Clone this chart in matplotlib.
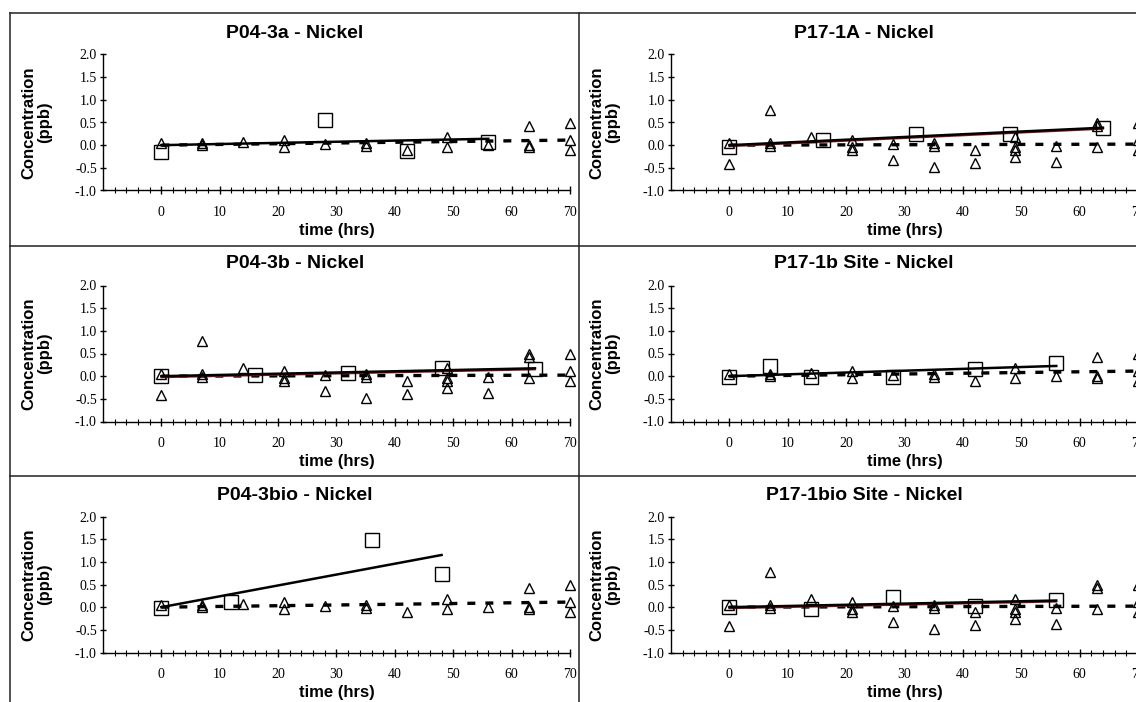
import numpy as np
import matplotlib
matplotlib.use("Agg")
import matplotlib.pyplot as plt
from matplotlib.lines import Line2D
from matplotlib.transforms import offset_copy

plt.rcParams['axes.unicode_minus'] = False

W, H = 1136, 702

# blank / control triangles (two sets, reused across panels)
blank_a_t = [0, 7, 7, 14, 21, 21, 28, 35, 35, 42, 49, 49, 56, 63, 63, 63, 70, 70, 70]
blank_a_c = [0.05, 0.05, 0.0, 0.08, 0.12, -0.03, 0.02, 0.05, -0.02, -0.1,
             0.18, -0.05, 0.0, 0.42, 0.0, -0.05, 0.48, 0.12, -0.1]

blank_b_t = [0, 0, 7, 7, 7, 14, 21, 21, 21, 28, 28, 35, 35, 35, 42, 42,
             49, 49, 49, 49, 56, 56, 63, 63, 63, 70, 70, 70]
blank_b_c = [0.05, -0.42, 0.78, 0.05, -0.02, 0.18, 0.12, -0.03, -0.1, 0.02, -0.32,
             0.05, -0.02, -0.48, -0.1, -0.4, 0.18, -0.05, -0.1, -0.27, -0.02, -0.38,
             0.48, 0.42, -0.05, 0.48, 0.12, -0.1]

# sample squares per panel
p043a_t = [0, 28, 42, 56]
p043a_c = [-0.15, 0.55, -0.12, 0.07]
p171a_t = [0, 16, 32, 48, 64]
p171a_c = [-0.03, 0.12, 0.25, 0.25, 0.38]
p043b_t = [0, 16, 32, 48, 64]
p043b_c = [0.0, 0.02, 0.07, 0.18, 0.15]
p171b_t = [0, 7, 14, 28, 42, 56]
p171b_c = [-0.02, 0.23, -0.02, -0.02, 0.15, 0.3]
p043bio_t = [0, 12, 36, 48]
p043bio_c = [-0.02, 0.12, 1.48, 0.73]
p171bio_t = [0, 14, 28, 42, 56]
p171bio_c = [0.0, -0.03, 0.22, 0.03, 0.15]

titles = ['P04-3a - Nickel', 'P17-1A - Nickel',
          'P04-3b - Nickel', 'P17-1b Site - Nickel',
          'P04-3bio - Nickel', 'P17-1bio Site - Nickel']
samples = [(p043a_t, p043a_c), (p171a_t, p171a_c),
           (p043b_t, p043b_c), (p171b_t, p171b_c),
           (p043bio_t, p043bio_c), (p171bio_t, p171bio_c)]
blanks = ['a', 'b', 'b', 'a', 'a', 'b']
red_under = [False, True, True, False, False, True]

x_ticks = [0, 10, 20, 30, 40, 50, 60, 70]
y_ticks = [-1.0, -0.5, 0.0, 0.5, 1.0, 1.5, 2.0]

SANS = 'Liberation Sans'
SERIF = 'Liberation Serif'


def origin_fit(t, c):
    '''Least squares slope of a line forced through zero.'''
    t = np.asarray(t, float)
    c = np.asarray(c, float)
    return (t * c).sum() / (t * t).sum()


fig = plt.figure(figsize=(W / 100, H / 100), dpi=100)

col_left = [103, 671]      # pixel x of the y axis (x = -10)
ax_w = 467                 # pixels for 80 hours
row_bottom = [190.5, 421.5, 652.5]
ax_h = 136
panel_left = [10, 579]
panel_w = 570
title_y = [33, 264, 495]

for i, title in enumerate(titles):
    r, col = divmod(i, 2)
    ax = fig.add_axes([col_left[col] / W, 1 - row_bottom[r] / H,
                       ax_w / W, ax_h / H])
    ax.set_xlim(-10, 70)
    ax.set_ylim(-1, 2)
    ax.patch.set_alpha(0)
    for s in ['top', 'right']:
        ax.spines[s].set_visible(False)
    for s in ['left', 'bottom']:
        ax.spines[s].set_linewidth(1.0)

    bt, bc = (blank_a_t, blank_a_c) if blanks[i] == 'a' else (blank_b_t, blank_b_c)
    st, sc = samples[i]

    # blank trend (dashed) and sample trend (solid)
    kb = origin_fit(bt, bc)
    tb = np.array([0, max(bt)])
    ax.plot(tb, kb * tb, color='black', lw=2.4, linestyle=(0, (2.4, 3.0)),
            solid_capstyle='butt', dash_capstyle='butt', zorder=2)
    ks = origin_fit(st, sc)
    ts = np.array([0, max(st)])
    if red_under[i]:
        ax.plot(ts, ks * ts, color='#8b1a1a', lw=1.2, zorder=3,
                transform=offset_copy(ax.transData, fig=fig, y=-0.9, units='points'))
    ax.plot(ts, ks * ts, color='black', lw=1.8, zorder=4)

    ax.plot(bt, bc, linestyle='none', marker='^', markersize=7.5,
            markerfacecolor='none', markeredgecolor='black', markeredgewidth=1.0,
            zorder=5, clip_on=False)
    ax.plot(st, sc, linestyle='none', marker='s', markersize=9.5,
            markerfacecolor='none', markeredgecolor='black', markeredgewidth=1.0,
            zorder=5, clip_on=False)

    ax.set_xticks(x_ticks)
    ax.set_xticks(np.arange(-8, 70, 2), minor=True)
    ax.set_yticks(y_ticks)
    ax.set_yticklabels(['%.1f' % v for v in y_ticks])
    ax.tick_params(axis='x', which='major', direction='inout', length=6, width=1.0,
                   pad=8, labelsize=10)
    ax.tick_params(axis='x', which='minor', direction='inout', length=4.5, width=0.8)
    ax.tick_params(axis='y', which='major', direction='inout', length=5, width=1.0,
                   pad=2, labelsize=10)
    for lab in ax.get_xticklabels() + ax.get_yticklabels():
        lab.set_fontfamily(SERIF)

    ax.set_xlabel('time (hrs)', fontsize=12, fontweight='bold', fontfamily=SANS)
    ax.xaxis.set_label_coords(0.5, -40 / ax_h)
    ax.xaxis.label.set_va('center')
    ax.set_ylabel('Concentration\n(ppb)', fontsize=12, fontweight='bold',
                  fontfamily=SANS, linespacing=1.05)
    ax.yaxis.set_label_coords(-66 / ax_w, 0.5)
    ax.yaxis.label.set_va('center')

    fig.text((panel_left[col] + panel_w / 2) / W, 1 - title_y[r] / H, title,
             ha='center', va='center', fontsize=14, fontweight='bold', fontfamily=SANS)

# panel frame lines
frame = dict(color='#222222', lw=1.1, transform=fig.transFigure)
fig.add_artist(Line2D([10 / W, 1], [1 - 13 / H] * 2, **frame))
fig.add_artist(Line2D([10 / W] * 2, [0, 1 - 13 / H], **frame))
fig.add_artist(Line2D([579 / W] * 2, [0, 1 - 13 / H], **frame))
for y in [246, 475.5]:
    fig.add_artist(Line2D([10 / W, 1], [1 - y / H] * 2, **frame))

fig.savefig('out.png', dpi=100)
